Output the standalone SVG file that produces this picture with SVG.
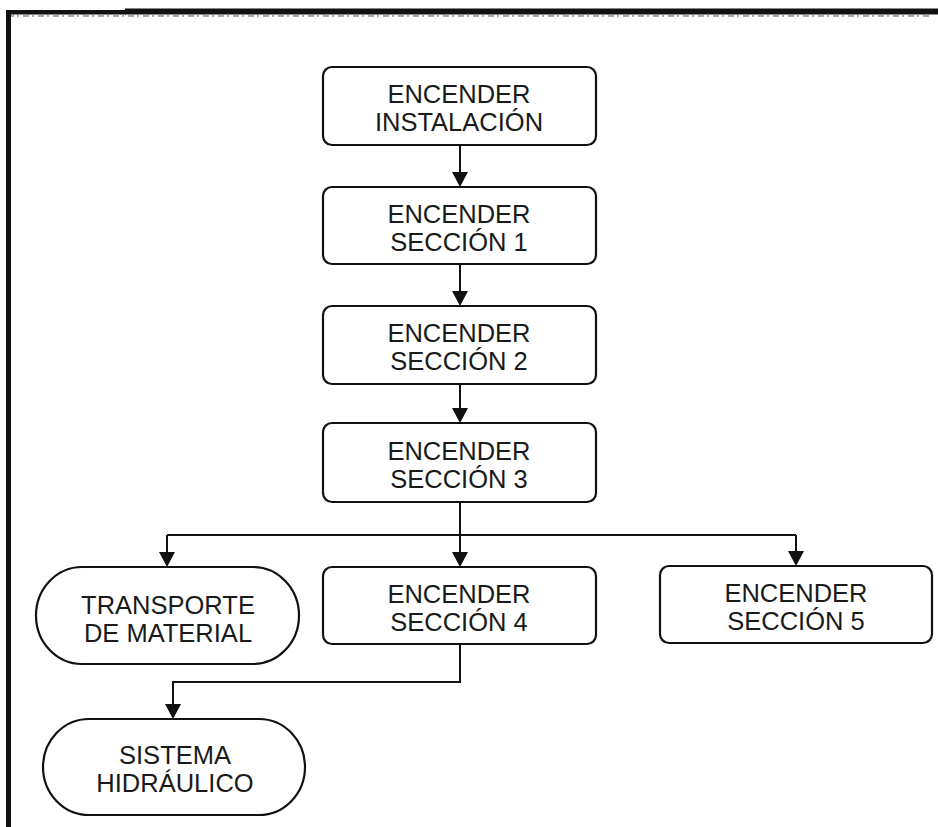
<svg xmlns="http://www.w3.org/2000/svg" width="938" height="827" viewBox="0 0 938 827">
  <style>
    .box { fill: #ffffff; stroke: #111111; stroke-width: 2.2; }
    .lbl { font-family: "Liberation Sans", Arial, sans-serif; font-size: 25.5px; fill: #1a1a1a; text-anchor: middle; }
    .wire { fill: none; stroke: #111111; stroke-width: 2; }
    .head { fill: #111111; }
  </style>

  <rect width="938" height="827" fill="#ffffff"/>

  <!-- page frame -->
  <g id="frame">
    <rect x="6" y="10" width="120" height="4.5" fill="#111111"/>
    <rect x="125" y="8.5" width="813" height="6" fill="#111111"/>
    <line x1="8" y1="16" x2="930" y2="16" stroke="#555555" stroke-width="1.2" stroke-dasharray="6 3 2 4"/>
    <rect x="6" y="10" width="5" height="817" fill="#111111"/>
  </g>

  <!-- connectors -->
  <g id="connectors">
    <path class="wire" d="M460,145 V172"/>
    <path class="wire" d="M460,264 V291"/>
    <path class="wire" d="M460,384 V408"/>
    <path class="wire" d="M460,502 V535"/>
    <path class="wire" d="M167,535 H796"/>
    <path class="wire" d="M167,535 V552"/>
    <path class="wire" d="M460,535 V552"/>
    <path class="wire" d="M796,535 V551"/>
    <path class="wire" d="M460,644 V682 H173 V704"/>
    <!-- arrowheads -->
    <polygon class="head" points="452,172 468,172 460,187"/>
    <polygon class="head" points="452,291 468,291 460,306"/>
    <polygon class="head" points="452,408 468,408 460,423"/>
    <polygon class="head" points="159,552 175,552 167,567"/>
    <polygon class="head" points="452,552 468,552 460,567"/>
    <polygon class="head" points="788,551 804,551 796,566"/>
    <polygon class="head" points="165,704 181,704 173,719"/>
  </g>

  <g id="n-instalacion">
    <rect class="box" x="323" y="67" width="273" height="78" rx="9"/>
    <text class="lbl" x="459" y="103">ENCENDER</text>
    <text class="lbl" x="459" y="131">INSTALACIÓN</text>
  </g>

  <g id="n-seccion1">
    <rect class="box" x="323" y="187" width="273" height="77" rx="9"/>
    <text class="lbl" x="459" y="223">ENCENDER</text>
    <text class="lbl" x="459" y="251">SECCIÓN 1</text>
  </g>

  <g id="n-seccion2">
    <rect class="box" x="323" y="306" width="273" height="78" rx="9"/>
    <text class="lbl" x="459" y="342">ENCENDER</text>
    <text class="lbl" x="459" y="370">SECCIÓN 2</text>
  </g>

  <g id="n-seccion3">
    <rect class="box" x="323" y="423" width="273" height="79" rx="9"/>
    <text class="lbl" x="459" y="460">ENCENDER</text>
    <text class="lbl" x="459" y="488">SECCIÓN 3</text>
  </g>

  <g id="n-transporte">
    <rect class="box" x="36" y="567" width="263" height="97" rx="46" ry="48.5"/>
    <text class="lbl" x="168" y="614">TRANSPORTE</text>
    <text class="lbl" x="168" y="642">DE MATERIAL</text>
  </g>

  <g id="n-seccion4">
    <rect class="box" x="323" y="567" width="273" height="77" rx="9"/>
    <text class="lbl" x="459" y="603">ENCENDER</text>
    <text class="lbl" x="459" y="631">SECCIÓN 4</text>
  </g>

  <g id="n-seccion5">
    <rect class="box" x="660" y="566" width="272" height="77" rx="9"/>
    <text class="lbl" x="796" y="602">ENCENDER</text>
    <text class="lbl" x="796" y="630">SECCIÓN 5</text>
  </g>

  <g id="n-hidraulico">
    <rect class="box" x="43" y="719" width="262" height="96" rx="46" ry="48"/>
    <text class="lbl" x="175" y="764">SISTEMA</text>
    <text class="lbl" x="175" y="792">HIDRÁULICO</text>
  </g>
</svg>
